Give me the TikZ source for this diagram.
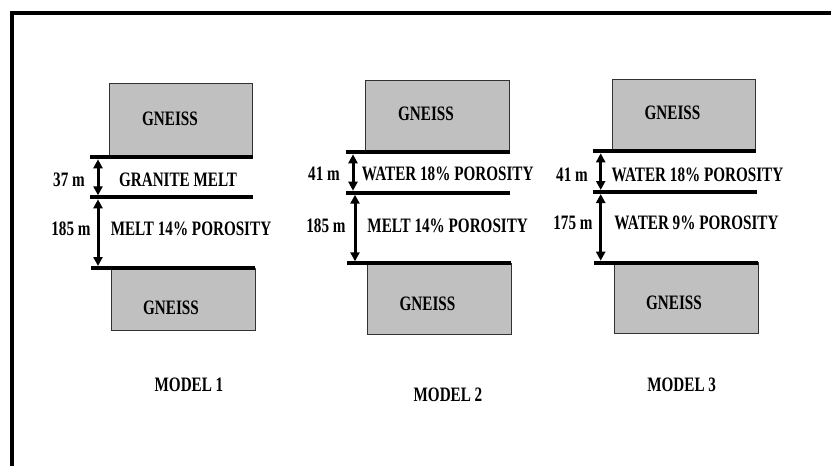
\documentclass[tikz,border=0pt]{standalone}
\usepackage{fontspec}
\newfontfamily\lab[FakeStretch=0.74]{Liberation Serif Bold}
\usetikzlibrary{arrows.meta}
\definecolor{boxgray}{RGB}{192,192,192}
\definecolor{boxedge}{RGB}{50,50,50}
\begin{document}
\begin{tikzpicture}[x=1pt,y=-1pt,
  txt/.style={anchor=base, inner sep=0pt, font=\lab\fontsize{20.5}{21}\selectfont},
  gbox/.style={fill=boxgray, draw=boxedge, line width=1pt},
  layer/.style={line width=4pt},
  dimarrow/.style={line width=3pt, {Triangle[length=9pt,width=9pt]}-{Triangle[length=9pt,width=9pt]}},
  frameline/.style={line width=4pt}]
\useasboundingbox (0,0) rectangle (831,466);
% frame
\coordinate (fb) at (12.3,466);
\coordinate (fc) at (12.3,12.7);
\coordinate (fr) at (831,12.7);
\draw[frameline] (fb) -- (fc) -- (fr);

% ---------------- MODEL 1
\draw[gbox] (109.3,83.3) rectangle (252.7,157.3);
\draw[gbox] (111,268) rectangle (255,330);
\draw[layer] (90,157.3) -- (253,157.3);
\draw[layer] (90,197.3) -- (253,197.3);
\draw[layer] (91,268) -- (255,268);
\coordinate (m1a) at (98,159.3);
\coordinate (m1b) at (98,195.3);
\coordinate (m1c) at (98,199.3);
\coordinate (m1d) at (98,266);
\draw[dimarrow] (m1a) -- (m1b);
\draw[dimarrow] (m1c) -- (m1d);
\node[txt] (g1t) at (170,125.2) {GNEISS};
\node[txt] (g1b) at (171,314.8) {GNEISS};
\node[txt] (d1a) at (69,186.8) {37 m};
\node[txt] (l1a) at (178,186.8) {GRANITE MELT};
\node[txt] (d1b) at (71,235.3) {185 m};
\node[txt] (l1b) at (191,235.3) {MELT 14\% POROSITY};
\node[txt] (t1) at (189,391.8) {MODEL 1};

% ---------------- MODEL 2
\draw[gbox] (365.7,80) rectangle (509.3,152.3);
\draw[gbox] (367.7,263.3) rectangle (511,334.3);
\draw[layer] (346,152.3) -- (510,152.3);
\draw[layer] (346,192.7) -- (510,192.7);
\draw[layer] (347,263.3) -- (511,263.3);
\coordinate (m2a) at (353,154.3);
\coordinate (m2b) at (353,190.7);
\coordinate (m2c) at (355,194.7);
\coordinate (m2d) at (355,261.3);
\draw[dimarrow] (m2a) -- (m2b);
\draw[dimarrow] (m2c) -- (m2d);
\node[txt] (g2t) at (426,120.8) {GNEISS};
\node[txt] (g2b) at (427.5,310.8) {GNEISS};
\node[txt] (d2a) at (324,180.8) {41 m};
\node[txt] (l2a) at (447.7,180.8) {WATER 18\% POROSITY};
\node[txt] (d2b) at (326,232.8) {185 m};
\node[txt] (l2b) at (447.7,232.8) {MELT 14\% POROSITY};
\node[txt] (t2) at (448,401.8) {MODEL 2};

% ---------------- MODEL 3
\draw[gbox] (612.3,79) rectangle (755.7,151.3);
\draw[gbox] (614.3,262.7) rectangle (758.3,333.3);
\draw[layer] (592.7,151.3) -- (755.7,151.3);
\draw[layer] (592.7,192) -- (756.7,192);
\draw[layer] (594,262.7) -- (757.7,262.7);
\coordinate (m3a) at (600.7,153.3);
\coordinate (m3b) at (600.7,190);
\coordinate (m3c) at (600.7,194);
\coordinate (m3d) at (600.7,260.7);
\draw[dimarrow] (m3a) -- (m3b);
\draw[dimarrow] (m3c) -- (m3d);
\node[txt] (g3t) at (672.5,119.5) {GNEISS};
\node[txt] (g3b) at (674,309.8) {GNEISS};
\node[txt] (d3a) at (572,181.8) {41 m};
\node[txt] (l3a) at (697.5,181.8) {WATER 18\% POROSITY};
\node[txt] (d3b) at (573,229.8) {175 m};
\node[txt] (l3b) at (696.5,229.8) {WATER 9\% POROSITY};
\node[txt] (t3) at (681.7,391.8) {MODEL 3};
\end{tikzpicture}
\end{document}
